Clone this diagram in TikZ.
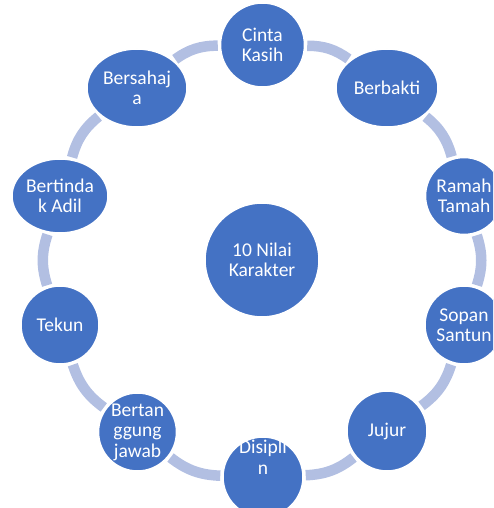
\documentclass[tikz,border=0pt]{standalone}
\usepackage{fontspec}
\setmainfont{Carlito}
\usetikzlibrary{shapes.geometric,backgrounds}
\definecolor{nodeblue}{RGB}{68,114,196}
\definecolor{ringblue}{RGB}{178,191,226}

\begin{document}
\begin{tikzpicture}[x=1pt,y=1pt,
    bub/.style={circle,fill=nodeblue,draw=white,line width=1.5pt,inner sep=0pt},
    ebub/.style={ellipse,fill=nodeblue,draw=white,line width=1.5pt,inner sep=0pt},
    lbl/.style={text=white,align=center,inner sep=0pt,font=\fontsize{19.5}{20.5}\selectfont},
    ring/.style={ringblue,line width=10.5pt,shorten <=2pt,shorten >=2pt}]
                \useasboundingbox (0,0) rectangle (493,508);
                \clip (0,0) rectangle (493,508);
                \node[bub,minimum size=84pt,label={[lbl]center:Cinta\\Kasih}] (cinta) at (262.5,463) {};
                \node[ebub,minimum width=102pt,minimum height=78pt,label={[lbl]center:Berbakti}] (berbakti) at (387,420) {};
                \node[bub,minimum size=77pt,label={[lbl]center:Ramah\\Tamah}] (ramah) at (464,312) {};
                \node[bub,minimum size=78pt,label={[lbl]center:Sopan\\Santun}] (sopan) at (464,183) {};
                \node[bub,minimum size=80pt,label={[lbl]center:Jujur}] (jujur) at (387,77) {};
                \node[bub,minimum size=80pt,label={[lbl,yshift=20pt]center:Disipli\\n}] (disiplin) at (263,31) {};
                \node[bub,minimum size=78pt,label={[lbl]center:Bertan\\ggung\\jawab}] (tanggung) at (137.5,76) {};
                \node[bub,minimum size=78pt,label={[lbl]center:Tekun}] (tekun) at (60,183) {};
                \node[ebub,minimum width=96pt,minimum height=74pt,label={[lbl]center:Bertinda\\k Adil}] (adil) at (60,312) {};
                \node[ebub,minimum width=100pt,minimum height=78pt,label={[lbl]center:Bersahaj\\a}] (sahaja) at (137,420) {};
                \node[bub,minimum size=114pt,label={[lbl]center:10 Nilai\\Karakter}] (pusat) at (262,248) {};
                \begin{scope}[on background layer]
                \draw[ring] (cinta) to[bend left=18] (berbakti);
                \draw[ring] (berbakti) to[bend left=18] (ramah);
                \draw[ring] (ramah) to[bend left=18] (sopan);
                \draw[ring] (sopan) to[bend left=18] (jujur);
                \draw[ring] (jujur) to[bend left=18] (disiplin);
                \draw[ring] (disiplin) to[bend left=18] (tanggung);
                \draw[ring] (tanggung) to[bend left=18] (tekun);
                \draw[ring] (tekun) to[bend left=18] (adil);
                \draw[ring] (adil) to[bend left=18] (sahaja);
                \draw[ring] (sahaja) to[bend left=18] (cinta);
                \end{scope}
            \end{tikzpicture}
\end{document}
